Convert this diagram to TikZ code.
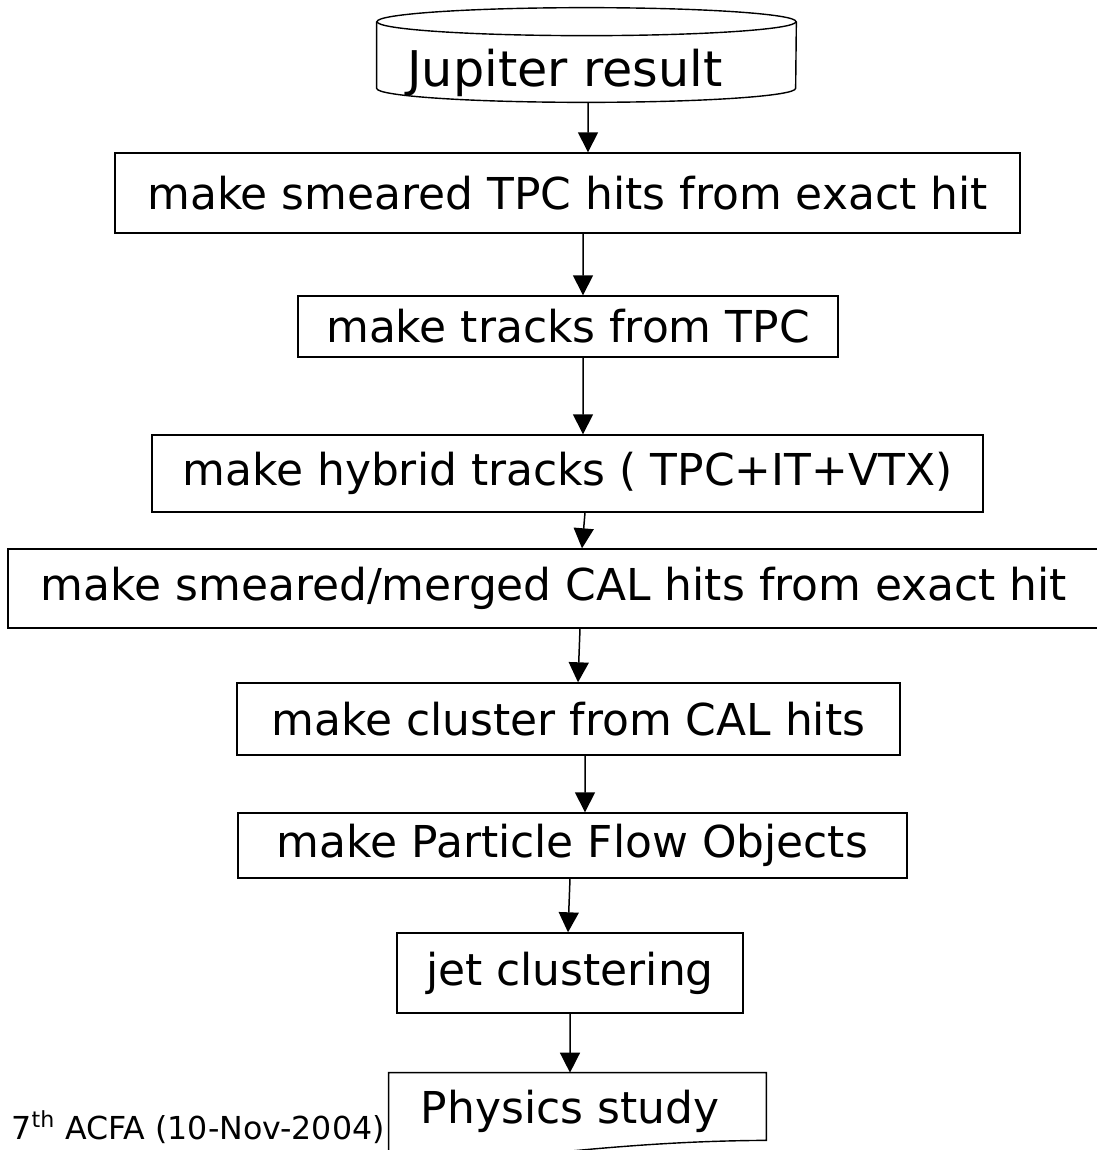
\documentclass[tikz,border=0pt]{standalone}
\usepackage{fontspec}
\setmainfont{DejaVu Sans}
\usetikzlibrary{shapes, positioning, arrows.meta}

\tikzset{
  stepbox/.style={draw, rectangle, line width=0.8pt, inner sep=0pt, font=\fontsize{25}{30}\selectfont},
  flow/.style={-{Triangle[length=0.4cm, width=0.4cm]}, line width=0.85pt}
}

\begin{document}
\begin{tikzpicture}
  \useasboundingbox (0,0) rectangle (21.94,-23);

  % Nodes
  \node (jup) [rectangle, inner sep=0pt, minimum width=8.38cm, minimum height=1.6cm, text height=1.0cm, text depth=0.04cm, font=\fontsize{28}{32}\selectfont] at (11.73,-1.24) {Jupiter result\hspace*{0.86cm}};
  \node (smear) [stepbox, minimum width=18.1cm, minimum height=1.6cm] at (11.35,-3.86) {make smeared TPC hits from exact hit};
  \node (track) [stepbox, minimum width=10.8cm, minimum height=1.22cm] at (11.36,-6.53) {make tracks from TPC};
  \node (hybrid) [stepbox, minimum width=16.62cm, minimum height=1.54cm] at (11.35,-9.47) {make hybrid tracks ( TPC+IT+VTX)};
  \node (calhit) [stepbox, minimum width=21.84cm, minimum height=1.58cm] at (11.08,-11.77) {make smeared/merged CAL hits from exact hit};
  \node (cluster) [stepbox, minimum width=13.26cm, minimum height=1.44cm] at (11.37,-14.38) {make cluster from CAL hits};
  \node (pfo) [stepbox, minimum width=13.38cm, minimum height=1.3cm] at (11.45,-16.91) {make Particle Flow Objects};
  \node (jet) [stepbox, minimum width=6.92cm, minimum height=1.6cm] at (11.4,-19.46) {jet clustering};
  \node (phys) [rectangle, inner sep=0pt, minimum width=7.54cm, minimum height=1.54cm, font=\fontsize{25}{30}\selectfont] at (11.55,-22.23) {Physics study\hspace*{0.3cm}};
  \node (note) [anchor=base east, inner sep=0pt, font=\fontsize{18}{21}\selectfont] at (7.7,-22.78) {7\textsuperscript{th} ACFA (10-Nov-2004)};

  % Shapes
  \draw[line width=0.8pt] (jup.north west) -- ([yshift=0.28cm]jup.south west)
    arc[start angle=180, end angle=360, x radius=4.19cm, y radius=0.28cm] -- (jup.north east);
  \draw[line width=0.8pt] (jup.north) ellipse [x radius=4.19cm, y radius=0.28cm];
  \draw[line width=0.8pt] (phys.south west) ++(0,-0.2) -- (phys.north west) -- (phys.north east) -- ([yshift=0.2cm]phys.south east)
    .. controls (13.2,-22.82) and (11.6,-23.0) .. (9.6,-23.2);

  % Edges
  \draw[flow] ([xshift=0.03cm]jup.south) -- ([xshift=0.41cm]smear.north);
  \draw[flow] ([xshift=0.31cm]smear.south) -- ([xshift=0.30cm]track.north);
  \draw[flow] ([xshift=0.30cm]track.south) -- ([xshift=0.31cm]hybrid.north);
  \draw[flow] ([xshift=0.35cm]hybrid.south) -- ([xshift=0.56cm]calhit.north);
  \draw[flow] ([xshift=0.52cm]calhit.south) -- ([xshift=0.19cm]cluster.north);
  \draw[flow] ([xshift=0.33cm]cluster.south) -- ([xshift=0.25cm]pfo.north);
  \draw[flow] ([xshift=-0.05cm]pfo.south) -- ([xshift=-0.04cm]jet.north);
  \draw[flow] (jet.south) -- ([xshift=-0.15cm]phys.north);

\end{tikzpicture}
\end{document}
